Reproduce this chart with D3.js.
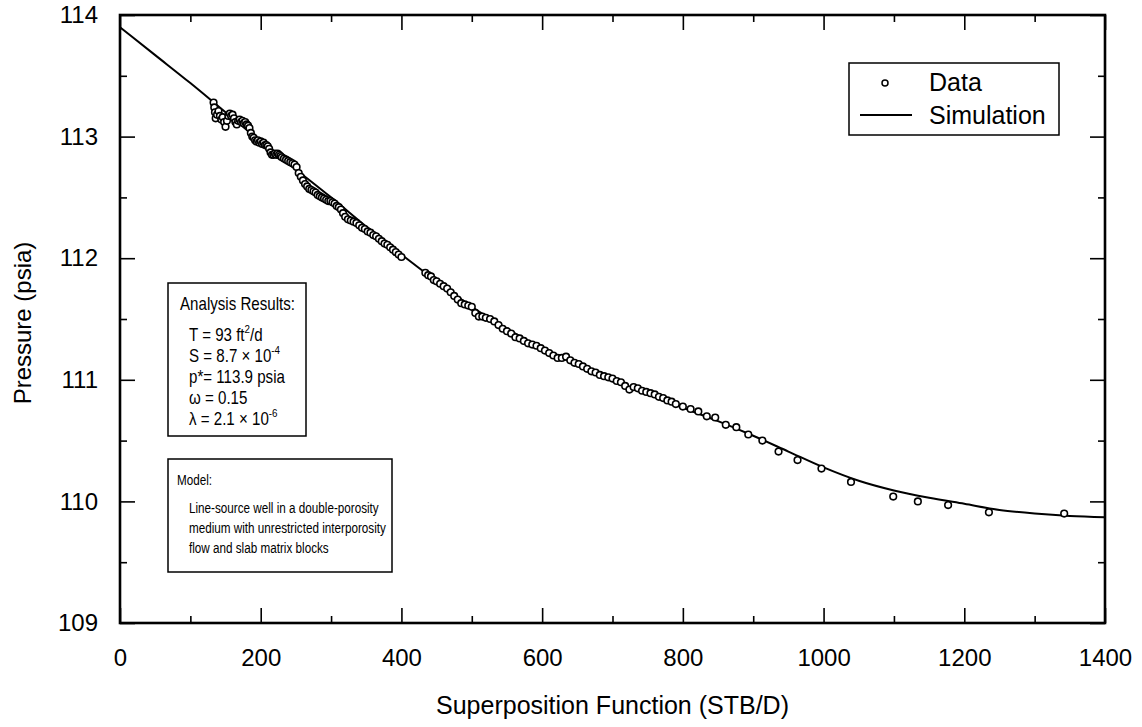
<!DOCTYPE html>
<html>
<head>
<meta charset="utf-8">
<script src="https://cdn.jsdelivr.net/npm/d3@7"></script>
<style>
  html, body { margin: 0; padding: 0; background: #fff; }
  svg { display: block; font-family: "Liberation Sans", Arial, Helvetica, sans-serif; }
</style>
</head>
<body>
<svg id="chart" width="1142" height="727"></svg>
<script>
// ---- Data ----
const dataX = [133,134,135,136,138,140,142,144,146,148,150,152,154,156,158,160,162,164,166,168,170,172,174,176,178,180,182,184,186,188,190,192,194,196,198,200,202,204,206,208,210,212,214,216,218,220,222,224,226,228,230,233,236,239,242,245,248,251,254,257,260,263,266,269,272,275,278,281,284,287,290,293,296,299,302,305,308,311,314,317,320,324,328,332,336,340,344,348,352,356,360,364,368,372,376,380,384,388,392,396,400,
  434,438,442,446,450,455,460,465,470,475,480,485,490,495,500,505,510,515,520,526,532,538,544,550,556,562,568,574,580,586,592,598,604,610,616,622,628,634,640,646,652,658,664,670,676,682,688,694,700,706,712,718,724,730,736,742,748,754,760,766,772,778,784,790,
  800,811,822,834,846,861,876,893,913,936,963,997,1039,1099,1134,1177,1235,1342];
const dataP = [113.28,113.24,113.20,113.15,113.18,113.21,113.17,113.14,113.16,113.12,113.08,113.13,113.17,113.19,113.17,113.18,113.15,113.12,113.10,113.13,113.14,113.12,113.13,113.11,113.12,113.10,113.09,113.07,113.03,113.00,112.99,112.97,112.96,112.97,112.95,112.96,112.94,112.95,112.93,112.93,112.92,112.90,112.87,112.85,112.85,112.86,112.85,112.86,112.85,112.84,112.83,112.82,112.81,112.80,112.79,112.78,112.77,112.75,112.70,112.67,112.64,112.61,112.59,112.57,112.56,112.55,112.54,112.52,112.51,112.50,112.49,112.48,112.47,112.47,112.46,112.45,112.43,112.42,112.40,112.37,112.34,112.32,112.31,112.30,112.29,112.27,112.25,112.24,112.22,112.21,112.19,112.18,112.16,112.14,112.12,112.11,112.09,112.07,112.05,112.03,112.01,
  111.88,111.86,111.85,111.82,111.81,111.79,111.77,111.75,111.72,111.69,111.66,111.63,111.62,111.61,111.60,111.55,111.52,111.52,111.51,111.50,111.48,111.45,111.42,111.40,111.38,111.35,111.34,111.32,111.30,111.29,111.28,111.26,111.24,111.22,111.20,111.18,111.18,111.19,111.16,111.14,111.13,111.11,111.09,111.07,111.06,111.04,111.03,111.02,111.01,110.99,110.98,110.95,110.92,110.94,110.93,110.91,110.90,110.89,110.88,110.86,110.85,110.83,110.82,110.80,
  110.78,110.76,110.74,110.70,110.69,110.63,110.61,110.55,110.50,110.41,110.34,110.27,110.16,110.04,110.00,109.97,109.91,109.90];

const simX = [0,50,100,150,200,250,300,350,400,450,500,550,600,650,700,750,800,850,900,950,1000,1050,1100,1150,1200,1250,1300,1350,1400];
const simP = [113.90,113.67,113.44,113.20,112.96,112.73,112.50,112.26,112.03,111.81,111.60,111.42,111.26,111.12,110.99,110.88,110.77,110.66,110.54,110.41,110.28,110.17,110.09,110.03,109.98,109.93,109.90,109.88,109.87];

const xTicks = [0,200,400,600,800,1000,1200,1400];
const xMinor = [100,300,500,700,900,1100,1300];
const yTicks = [109,110,111,112,113,114];
const yMinor = [109.5,110.5,111.5,112.5,113.5];

const xTitle = "Superposition Function (STB/D)";
const yTitle = "Pressure (psia)";
const legendLabels = ["Data", "Simulation"];
const resultsTitle = "Analysis Results:";
const modelTitle = "Model:";
const modelLines = ["Line-source well in a double-porosity", "medium with unrestricted interporosity", "flow and slab matrix blocks"];

// ---- Layout ----
const svg = d3.select("#chart");
const L = 120, R = 1105, T = 15, B = 623;
const x = d3.scaleLinear().domain([0, 1400]).range([L, R]);
const y = d3.scaleLinear().domain([109, 114]).range([B, T]);

const majorLen = 15, minorLen = 7;

// Simulation line
const line = d3.line().x((d, i) => x(simX[i])).y((d, i) => y(simP[i])).curve(d3.curveMonotoneX);
svg.append("path").datum(simX).attr("d", line)
  .attr("fill", "none").attr("stroke", "#000").attr("stroke-width", 2);

// Data points
svg.append("g").selectAll("circle").data(dataX).join("circle")
  .attr("cx", (d) => x(d)).attr("cy", (d, i) => y(dataP[i])).attr("r", 3.3)
  .attr("fill", "#fff").attr("stroke", "#000").attr("stroke-width", 1.6);

// Axes with inward ticks on all sides
const fontTick = 24;
svg.append("g").attr("transform", `translate(0,${B})`)
  .call(d3.axisBottom(x).tickValues(xTicks).tickSizeInner(-majorLen).tickSizeOuter(0).tickPadding(26).tickFormat(d3.format("d")));
svg.append("g").attr("transform", `translate(0,${B})`)
  .call(d3.axisBottom(x).tickValues(xMinor).tickSizeInner(-minorLen).tickSizeOuter(0).tickFormat(""));
svg.append("g").attr("transform", `translate(0,${T})`)
  .call(d3.axisTop(x).tickValues(xTicks).tickSizeInner(-majorLen).tickSizeOuter(0).tickFormat(""));
svg.append("g").attr("transform", `translate(0,${T})`)
  .call(d3.axisTop(x).tickValues(xMinor).tickSizeInner(-minorLen).tickSizeOuter(0).tickFormat(""));
svg.append("g").attr("transform", `translate(${L},0)`)
  .call(d3.axisLeft(y).tickValues(yTicks).tickSizeInner(-majorLen).tickSizeOuter(0).tickPadding(22).tickFormat(d3.format("d")));
svg.append("g").attr("transform", `translate(${L},0)`)
  .call(d3.axisLeft(y).tickValues(yMinor).tickSizeInner(-minorLen).tickSizeOuter(0).tickFormat(""));
svg.append("g").attr("transform", `translate(${R},0)`)
  .call(d3.axisRight(y).tickValues(yTicks).tickSizeInner(-majorLen).tickSizeOuter(0).tickFormat(""));
svg.append("g").attr("transform", `translate(${R},0)`)
  .call(d3.axisRight(y).tickValues(yMinor).tickSizeInner(-minorLen).tickSizeOuter(0).tickFormat(""));

svg.selectAll(".domain").remove();
svg.selectAll(".tick line").attr("stroke", "#000").attr("stroke-width", 1.6);
svg.selectAll(".tick text").attr("fill", "#000").attr("font-size", fontTick)
  .attr("font-family", "'Liberation Sans', Arial, sans-serif");

// Frame
svg.append("rect").attr("x", L).attr("y", T).attr("width", R - L).attr("height", B - T)
  .attr("fill", "none").attr("stroke", "#000").attr("stroke-width", 2.6);

// Axis titles
svg.append("text").attr("x", (L + R) / 2).attr("y", 714).attr("text-anchor", "middle")
  .attr("font-size", 25).text(xTitle);
svg.append("text").attr("transform", `translate(31,${(T + B) / 2 + 4}) rotate(-90)`).attr("text-anchor", "middle")
  .attr("font-size", 24).text(yTitle);

// Legend
const lg = svg.append("g");
lg.append("rect").attr("x", 849).attr("y", 63).attr("width", 210).attr("height", 72)
  .attr("fill", "#fff").attr("stroke", "#000").attr("stroke-width", 1.5);
lg.append("circle").attr("cx", 885).attr("cy", 83).attr("r", 3).attr("fill", "#fff").attr("stroke", "#000").attr("stroke-width", 1.5);
lg.append("line").attr("x1", 860).attr("x2", 912).attr("y1", 115).attr("y2", 115).attr("stroke", "#000").attr("stroke-width", 2);
lg.append("text").attr("x", 929).attr("y", 91).attr("font-size", 25).text(legendLabels[0]);
lg.append("text").attr("x", 929).attr("y", 124).attr("font-size", 25).text(legendLabels[1]);

// Analysis results box (text is a narrow face: compressed horizontally)
const squeeze = 0.84;
const ab = svg.append("g");
ab.append("rect").attr("x", 168).attr("y", 283).attr("width", 138).attr("height", 153)
  .attr("fill", "#fff").attr("stroke", "#000").attr("stroke-width", 1.5);
const fs = 18;
ab.append("text").attr("transform", `translate(180,310) scale(${squeeze},1)`).attr("font-size", fs).text(resultsTitle);
function addLine(yy, parts) {
  const t = ab.append("text").attr("transform", `translate(189,${yy}) scale(${squeeze},1)`).attr("font-size", fs);
  parts.forEach(p => {
    const ts = t.append("tspan").text(p.t);
    if (p.sup) ts.attr("font-size", fs * 0.65).attr("dy", p.sup);
    if (p.down) ts.attr("dy", p.down);
  });
}
addLine(341, [{t: "T = 93 ft"}, {t: "2", sup: -8}, {t: "/d", down: 8}]);
addLine(362, [{t: "S = 8.7 × 10"}, {t: "-4", sup: -8}]);
addLine(383, [{t: "p*= 113.9 psia"}]);
addLine(404, [{t: "ω = 0.15"}]);
addLine(425, [{t: "λ = 2.1 × 10"}, {t: "-6", sup: -8}]);

// Model box
const mb = svg.append("g");
mb.append("rect").attr("x", 168).attr("y", 459).attr("width", 224).attr("height", 113)
  .attr("fill", "#fff").attr("stroke", "#000").attr("stroke-width", 1.5);
const fm = 15;
const sq2 = 0.78;
mb.append("text").attr("transform", `translate(177,485) scale(${sq2},1)`).attr("font-size", fm).text(modelTitle);
modelLines.forEach((s, i) => {
  mb.append("text").attr("transform", `translate(189,${513 + i * 20}) scale(${sq2},1)`).attr("font-size", fm).text(s);
});
</script>
</body>
</html>
